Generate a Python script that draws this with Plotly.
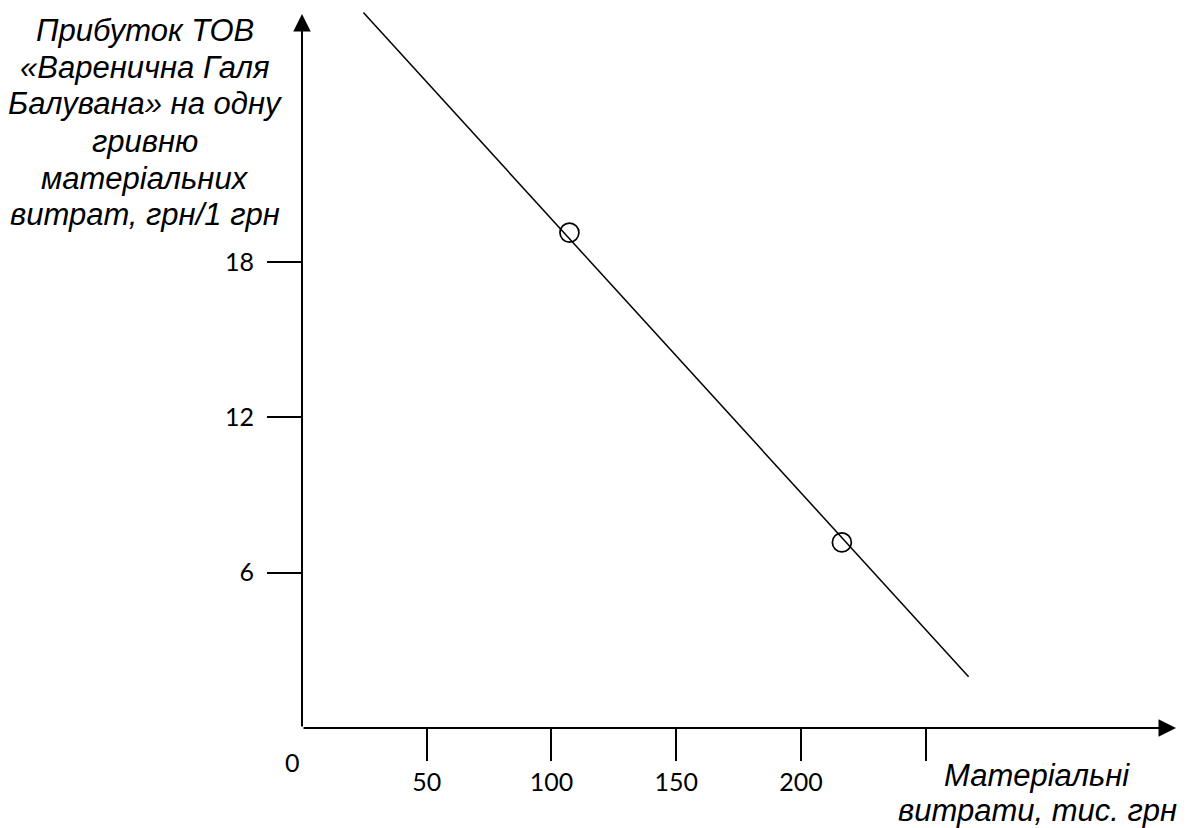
import plotly.graph_objects as go

# ---- data ----
line_x = [24.6, 267.2]
line_y = [27.64, 1.98]
point_x = [107.2, 216.4]
point_y = [19.14, 7.17]

x_tickvals = [50, 100, 150, 200, 250]
x_ticktext = ["50", "100", "150", "200", ""]
y_tickvals = [6, 12, 18]
y_ticktext = ["6", "12", "18"]

y_title_lines = [
    "Прибуток ТОВ",
    "«Варенична Галя",
    "Балувана» на одну",
    "гривню",
    "матеріальних",
    "витрат, грн/1 грн",
]
x_title_lines = ["Матеріальні", "витрати, тис. грн"]
origin_label = "0"

# ---- layout geometry (page has an 8px body margin) ----
OFF = 8
W, H = 1187 - OFF, 828 - OFF
X0, Y0 = 302 - OFF, 728 - OFF          # axis origin in figure pixels
X_END, Y_TOP = 1176 - OFF, 14 - OFF     # arrow tips
ML, MT = X0, 0
MR, MB = W - X_END, H - Y0
PW, PH = W - ML - MR, H - MT - MB
PX_PER_X = 124.74 / 50
PX_PER_Y = 155.3 / 6
x_max = PW / PX_PER_X
y_max = PH / PX_PER_Y


def ref_to_paper(px, py):
    """reference page pixel -> paper fraction"""
    return (px - OFF - ML) / PW, (Y0 - (py - OFF)) / PH


title_font = dict(family="Liberation Sans", size=31, color="black", style="italic")
tick_font = dict(family="Lato", size=25, color="black")

fig = go.Figure()
fig.add_trace(go.Scatter(
    x=line_x, y=line_y, mode="lines",
    line=dict(color="black", width=1.5),
    hoverinfo="skip", showlegend=False,
))
fig.add_trace(go.Scatter(
    x=point_x, y=point_y, mode="markers",
    marker=dict(symbol="circle-open", size=19, color="black", line=dict(width=1.7, color="black")),
    showlegend=False, cliponaxis=False,
))

annotations = []
# axes with arrows
y_tip = (Y0 - Y_TOP) / PX_PER_Y
for tx, ty in [(0, y_tip), (x_max, 0)]:
    annotations.append(dict(x=tx, y=ty, ax=0, ay=0, xref="x", yref="y", axref="x", ayref="y",
                            text="", showarrow=True, arrowhead=2, arrowsize=1.75, arrowwidth=2,
                            arrowcolor="black", standoff=0))

# origin label
ox, oy = ref_to_paper(292.7, 761.7)
annotations.append(dict(x=ox, y=oy, xref="paper", yref="paper", text=origin_label,
                        showarrow=False, font=tick_font, xanchor="center", yanchor="middle"))

# y title lines
y_centers = [30, 67, 104, 141, 178, 215]
for txt, c in zip(y_title_lines, y_centers):
    px, py = ref_to_paper(145, c)
    annotations.append(dict(x=px, y=py, xref="paper", yref="paper", text=txt, showarrow=False,
                            font=title_font, xanchor="center", yanchor="middle"))

# x title lines
x_centers = [775.5, 810]
for txt, c in zip(x_title_lines, x_centers):
    px, py = ref_to_paper(1037, c)
    annotations.append(dict(x=px, y=py, xref="paper", yref="paper", text=txt, showarrow=False,
                            font=title_font, xanchor="center", yanchor="middle"))

fig.update_layout(
    width=W, height=H,
    margin=dict(l=ML, r=MR, t=MT, b=MB, pad=0),
    paper_bgcolor="white", plot_bgcolor="white",
    annotations=annotations,
    xaxis=dict(range=[0, x_max], showgrid=False, zeroline=False, showline=False,
               tickmode="array", tickvals=x_tickvals, ticktext=x_ticktext,
               ticks="outside", ticklen=32, tickwidth=2, tickcolor="black",
               tickfont=tick_font, fixedrange=True),
    yaxis=dict(range=[0, y_max], showgrid=False, zeroline=False, showline=False,
               tickmode="array", tickvals=y_tickvals, ticktext=y_ticktext,
               ticks="outside", ticklen=34, tickwidth=2, tickcolor="black",
               tickfont=tick_font, ticklabelstandoff=8, fixedrange=True),
)

fig.write_html("out.html")
